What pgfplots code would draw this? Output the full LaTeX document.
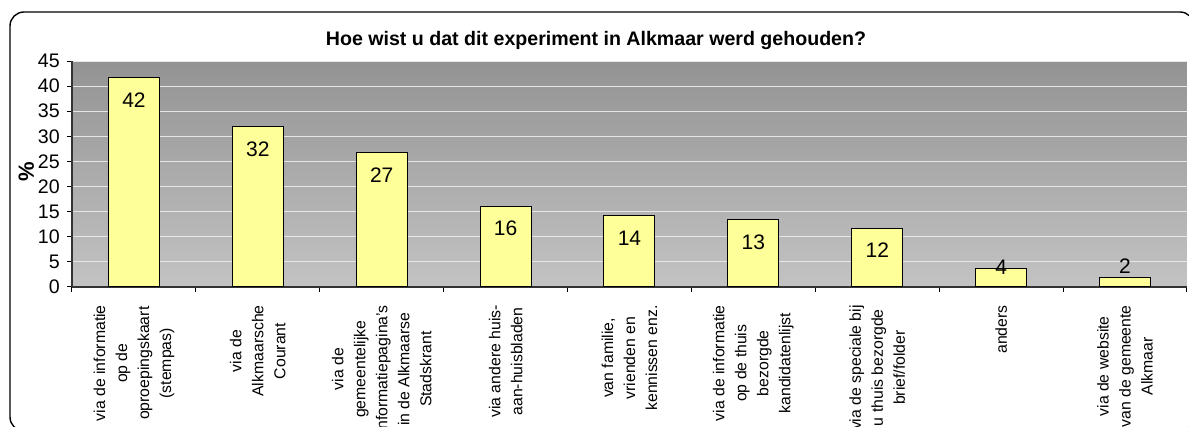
\documentclass[border=0pt]{standalone}
\usepackage{fontspec}
\setmainfont{Liberation Sans}
\usepackage{pgfplots}
\pgfplotsset{compat=1.18}
\definecolor{barfill}{HTML}{FFFF99}
\definecolor{bgtop}{HTML}{939393}
\definecolor{bgbot}{HTML}{C3C3C3}
\definecolor{gridc}{HTML}{E6E6E6}

\begin{document}
\begin{tikzpicture}
% 1 px of the reference = 0.5pt, axis origin at px (72,287)
\useasboundingbox (-36pt,-70pt) rectangle (558.5pt,143.5pt);
\draw[line width=0.7pt, rounded corners=7pt] (-31pt,-72pt) rectangle (561pt,137.5pt);
\node[font=\bfseries\fontsize{9.8}{11}\selectfont] at (262pt,123.5pt)
  {Hoe wist u dat dit experiment in Alkmaar werd gehouden?};
\begin{axis}[
  at={(0,0)}, anchor=south west,
  scale only axis, width=557.5pt, height=113pt,
  xmin=-0.5, xmax=8.5, ymin=0, ymax=45,
  axis background/.style={shade, top color=bgtop, bottom color=bgbot},
  axis x line*=bottom, axis y line*=left,
  axis line style={black!80, line width=0.6pt},
  ytick={0,5,...,45},
  ymajorgrids, grid style={gridc, line width=0.5pt},
  tick align=outside, major tick length=2.6pt,
  tick style={black, line width=0.5pt},
  xtick={-0.5,0.5,...,8.5},
  x tick label as interval,
  xticklabels={
    {via de informatie\\op de\\oproepingskaart\\(stempas)},
    {via de\\Alkmaarsche\\Courant},
    {via de\\gemeentelijke\\informatiepagina's\\in de Alkmaarse\\Stadskrant},
    {via andere huis-\\aan-huisbladen},
    {van familie,\\vrienden en\\kennissen enz.},
    {via de informatie\\op de thuis\\bezorgde\\kandidatenlijst},
    {via de speciale bij\\u thuis bezorgde\\brief/folder},
    {anders},
    {via de website\\van de gemeente\\Alkmaar}},
  xticklabel style={yshift=-3pt, rotate=90, anchor=east, align=center,
    font=\fontsize{7.9}{11}\selectfont},
  yticklabel style={font=\fontsize{9.8}{11}\selectfont},
  /pgf/number format/assume math mode=true,
  ylabel={\bfseries\%},
  ylabel style={font=\fontsize{11}{12}\selectfont,
    at={(axis description cs:-0.041,0.51)}, anchor=center},
]
\addplot[ybar, bar width=25.5pt, fill=barfill, draw=black, line width=0.5pt]
  coordinates {(0,41.7) (1,31.9) (2,26.8) (3,16.1) (4,14.3) (5,13.5) (6,11.6) (7,3.6) (8,1.8)};
% value labels, placed inside the top of each bar as in the reference
\addplot[draw=none, mark=none, point meta=explicit symbolic,
  nodes near coords, nodes near coords style={anchor=center, font=\fontsize{10.5}{12}\selectfont}]
  coordinates {(0,37.3)[42] (1,27.5)[32] (2,22.3)[27] (3,11.6)[16] (4,9.8)[14]
               (5,9.0)[13] (6,7.3)[12] (7,3.9)[4] (8,4.1)[2]};
\end{axis}
\end{tikzpicture}
\end{document}
